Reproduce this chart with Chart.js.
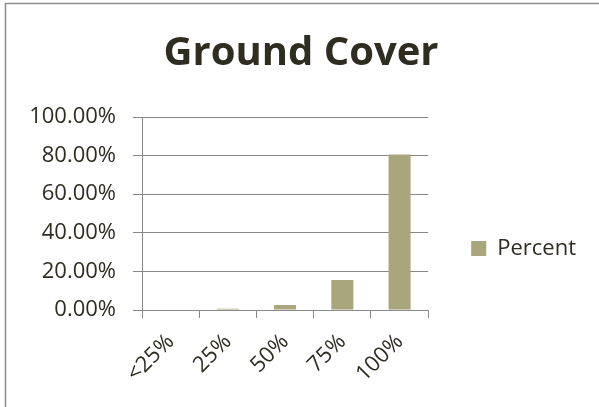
<!DOCTYPE html>
<html lang="en">
<head>
  <meta charset="UTF-8">
  <title>Ground Cover</title>
  <script src="https://cdn.jsdelivr.net/npm/chart.js"></script>
  <style>
    html, body { margin: 0; padding: 0; background: #fff; }
    #wrap { position: relative; width: 599px; height: 407px; }
  </style>
</head>
<body>
  <div id="wrap"><canvas id="chart"></canvas></div>

  <script>
    // data
    const categories = ['<25%', '25%', '50%', '75%', '100%'];
    const percentValues = [0, 0.006, 0.026, 0.156, 0.806];
    const yTicks = [0, 0.2, 0.4, 0.6, 0.8, 1];
    const seriesName = 'Percent';
    const chartTitle = 'Ground Cover';

    const textColor = '#2f2c22';
    const gridColor = '#888888';
    const barColor = '#a9a57c';
    const font = 'Open Sans';

    // top and left frame line of the chart object
    const framePlugin = {
      id: 'frame',
      beforeDraw(chart) {
        const ctx = chart.ctx;
        ctx.save();
        ctx.strokeStyle = '#8c8c8c';
        ctx.lineWidth = 1.5;
        ctx.beginPath();
        ctx.moveTo(5.5, chart.height);
        ctx.lineTo(5.5, 3.5);
        ctx.lineTo(chart.width, 3.5);
        ctx.stroke();
        ctx.restore();
      }
    };

    new Chart(document.getElementById('chart'), {
      type: 'bar',
      data: {
        labels: categories,
        datasets: [{
          label: seriesName,
          data: percentValues,
          backgroundColor: barColor,
          borderWidth: 0,
          categoryPercentage: 1,
          barPercentage: 0.385
        }]
      },
      plugins: [framePlugin],
      options: {
        responsive: true,
        maintainAspectRatio: false,
        animation: false,
        layout: { padding: { left: 16, right: 13, top: 0, bottom: 0 } },
        plugins: {
          title: {
            display: true,
            text: chartTitle,
            color: textColor,
            font: { family: font, size: 40, weight: 'bold' },
            padding: { top: 30, bottom: 39 }
          },
          legend: {
            position: 'right',
            align: 'center',
            maxWidth: 220,
            title: { display: true, text: '', font: { size: 10 }, padding: { top: 0, bottom: 78 } },
            labels: {
              boxWidth: 15,
              boxHeight: 15,
              padding: 43,
              color: textColor,
              font: { family: font, size: 22 }
            }
          },
          tooltip: { enabled: false }
        },
        scales: {
          x: {
            grid: {
              offset: true,
              drawOnChartArea: false,
              drawTicks: true,
              tickLength: 8,
              color: gridColor
            },
            border: { display: true, color: gridColor },
            ticks: {
              color: textColor,
              font: { family: font, size: 22 },
              maxRotation: 45,
              minRotation: 45,
              padding: 11
            },
            afterFit(scale) { scale.height = 97; }
          },
          y: {
            min: 0,
            max: 1,
            grid: { color: gridColor, tickLength: 9 },
            border: { display: true, color: gridColor },
            ticks: {
              color: textColor,
              font: { family: font, size: 22 },
              padding: 17,
              callback: v => (v * 100).toFixed(2) + '%'
            },
            afterBuildTicks(scale) { scale.ticks = yTicks.map(v => ({ value: v })); },
            afterFit(scale) { scale.width = 126; }
          }
        }
      }
    });
  </script>
</body>
</html>
